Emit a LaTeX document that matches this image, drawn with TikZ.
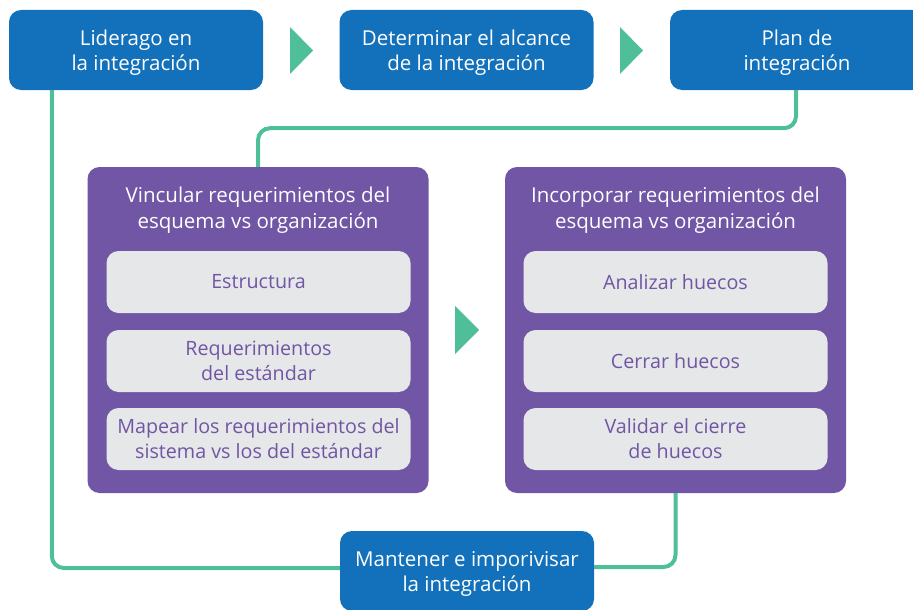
\documentclass[tikz,border=0pt]{standalone}
\usepackage{fontspec}
\setmainfont{Open Sans}
\definecolor{procblue}{HTML}{1271BA}
\definecolor{flowgreen}{HTML}{4FBF9A}
\definecolor{stagepurple}{HTML}{7056A4}
\definecolor{taskgray}{HTML}{E6E7E8}

\begin{document}
\begin{tikzpicture}[x=1pt,y=-1pt, % one unit = one pixel, y down
    mainbox/.style={fill=procblue,rounded corners=12pt,
        minimum width=254pt,minimum height=80pt,inner sep=0pt},
    maintext/.style={text=white,align=center,inner sep=0pt,
        font=\fontsize{20.5}{25}\selectfont},
    stagebox/.style={fill=stagepurple,rounded corners=12pt,
        minimum width=341pt,minimum height=326pt,inner sep=0pt},
    stagetitle/.style={text=white,align=center,inner sep=0pt,
        font=\fontsize{20.5}{26}\selectfont},
    taskbox/.style={fill=taskgray,text=stagepurple,rounded corners=12pt,
        minimum width=304pt,minimum height=62pt,align=center,inner sep=0pt,
        font=\fontsize{19.7}{25}\selectfont},
    link/.style={draw=flowgreen,line width=4pt,rounded corners=12pt}]

    % Fixed page area
    \useasboundingbox (0,0) rectangle (913,610);
    \clip (0,0) rectangle (913,610);

    % Top row
    \node[mainbox] (lider) at (136,50) {};
    \node[maintext] (lidertext) at (136,53) {Liderago en\\la integración};
    \node[mainbox] (alcance) at (466.5,50) {};
    \node[maintext] (alcancetext) at (466.5,53) {Determinar el alcance\\de la integración};
    \node[mainbox] (plan) at (797,50) {};
    \node[maintext] (plantext) at (797,53) {Plan de\\integración};

    % Stage boxes
    \node[stagebox] (vincular) at (258,330) {};
    \node[stagetitle] (vinculartitle) at (258,210) {Vincular requerimientos del\\esquema vs organización};
    \node[taskbox] (estructura) at (258.5,282) {Estructura};
    \node[taskbox] (reqestandar) at (258.5,361) {Requerimientos\\del estándar};
    \node[taskbox] (mapear) at (258.5,439) {Mapear los requerimientos del\\sistema vs los del estándar};

    \node[stagebox] (incorporar) at (675.5,330) {};
    \node[stagetitle] (incorporartitle) at (675.5,210) {Incorporar requerimientos del\\esquema vs organización};
    \node[taskbox] (analizar) at (675.5,282) {Analizar huecos};
    \node[taskbox] (cerrar) at (675.5,361) {Cerrar huecos};
    \node[taskbox] (validar) at (675.5,439) {Validar el cierre\\de huecos};

    % Bottom box
    \node[mainbox] (mantener) at (467,571) {};
    \node[maintext] (mantenertext) at (467,574) {Mantener e imporivisar\\la integración};

    % Green arrow heads
    \fill[flowgreen] (290,27) -- (313,50.5) -- (290,74) -- cycle;
    \fill[flowgreen] (620,27) -- (643,50.5) -- (620,74) -- cycle;
    \fill[flowgreen] (455,306) -- (479,330) -- (455,354) -- cycle;

    % Connectors
    \draw[link] ([xshift=43pt]lider.south west) |- ([yshift=3pt]mantener.west);
    \draw[link] ([xshift=-1pt]plan.south) -- ++(0,38) -| (vincular.north);
    \draw[link] (incorporar.south) |- ([yshift=4pt]mantener.east);
\end{tikzpicture}
\end{document}
